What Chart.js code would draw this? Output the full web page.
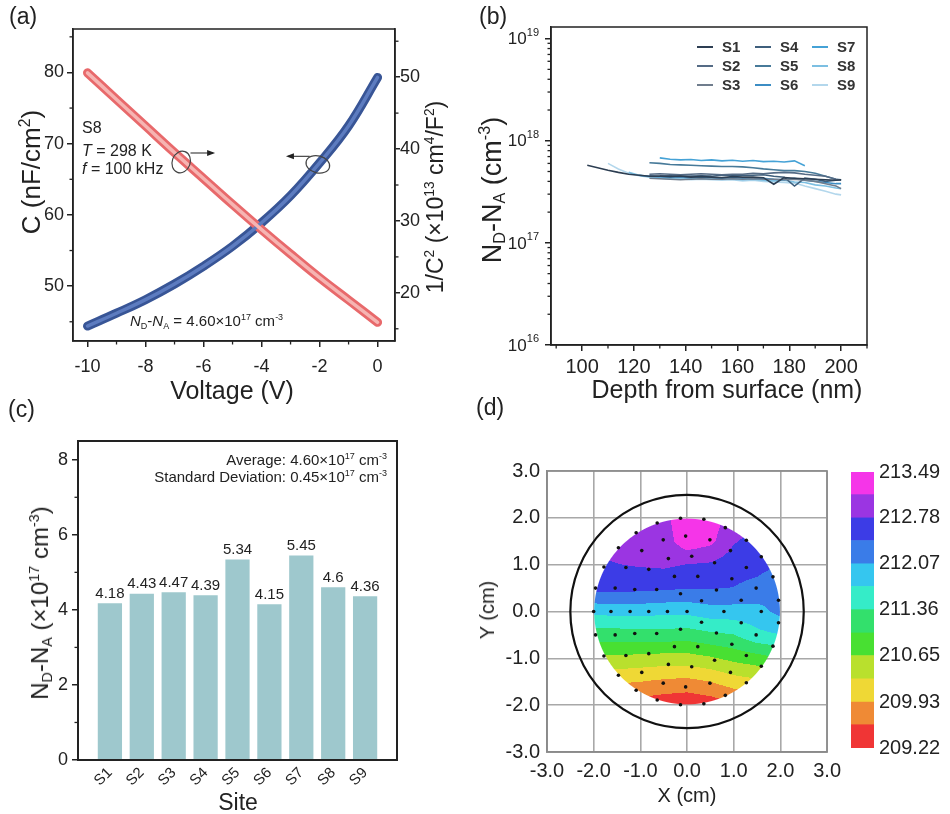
<!DOCTYPE html>
<html><head><meta charset="utf-8">
<script src="https://cdn.jsdelivr.net/npm/chart.js@4.4.1/dist/chart.umd.min.js"></script>
<style>
html,body{margin:0;padding:0;background:#fff;}
body{width:950px;height:814px;position:relative;overflow:hidden;font-family:"Liberation Sans",Arial,sans-serif;color:#222;}
canvas{position:absolute;}
.t{position:absolute;white-space:nowrap;line-height:1;}
.rot{transform:translate(-50%,-50%) rotate(-90deg);}
.ctr{transform:translate(-50%,-50%);}
sup{font-size:0.6em;vertical-align:0.62em;line-height:0;}
sub{font-size:0.6em;vertical-align:-0.3em;line-height:0;}
i{font-style:italic;}
.lg{position:absolute;height:2px;width:16px;}
.lt{position:absolute;font-size:15px;font-weight:bold;color:#333;line-height:1;}
</style></head><body>
<canvas id="ca" width="440" height="400" style="left:0;top:0"></canvas>
<canvas id="cb" width="420" height="400" style="left:460px;top:0"></canvas>
<canvas id="cc" width="440" height="414" style="left:0;top:400px"></canvas>
<canvas id="cd" width="378" height="414" style="left:470px;top:400px"></canvas>
<canvas id="ce" width="105" height="310" style="left:845px;top:455px"></canvas>

<!-- panel labels -->
<div class="t" style="left:9px;top:5px;font-size:23px">(a)</div>
<div class="t" style="left:479px;top:5px;font-size:23px">(b)</div>
<div class="t" style="left:8px;top:398px;font-size:23px">(c)</div>
<div class="t" style="left:476px;top:396px;font-size:23px">(d)</div>

<!-- (a) texts -->
<div class="t rot" style="left:31px;top:172px;font-size:26px">C (nF/cm<sup>2</sup>)</div>
<div class="t rot" style="left:435px;top:197px;font-size:23px">1/C<sup>2</sup> (×10<sup>13</sup> cm<sup>4</sup>/F<sup>2</sup>)</div>
<div class="t ctr" style="left:232px;top:390px;font-size:25px">Voltage (V)</div>
<div class="t" style="left:82px;top:120px;font-size:16px">S8</div>
<div class="t" style="left:82px;top:143px;font-size:16px"><i>T</i> = 298 K</div>
<div class="t" style="left:82px;top:161px;font-size:16px"><i>f</i> = 100 kHz</div>
<div class="t" style="left:130px;top:313px;font-size:15px"><i>N</i><sub>D</sub>-<i>N</i><sub>A</sub> = 4.60×10<sup>17</sup> cm<sup>-3</sup></div>

<!-- (b) texts -->
<div class="t rot" style="left:492px;top:190px;font-size:27px">N<sub>D</sub>-N<sub>A</sub> (cm<sup>-3</sup>)</div>
<div class="t ctr" style="left:727px;top:389px;font-size:25px">Depth from surface (nm)</div>
<div id="legendB"></div>

<!-- (c) texts -->
<div class="t rot" style="left:40px;top:603px;font-size:24px">N<sub>D</sub>-N<sub>A</sub> (×10<sup>17</sup> cm<sup>-3</sup>)</div>
<div class="t ctr" style="left:238px;top:802px;font-size:23px">Site</div>
<div class="t" style="right:563px;top:452px;font-size:15px">Average: 4.60×10<sup>17</sup> cm<sup>-3</sup></div>
<div class="t" style="right:563px;top:469px;font-size:15px">Standard Deviation: 0.45×10<sup>17</sup> cm<sup>-3</sup></div>

<!-- (d) texts -->
<div class="t rot" style="left:487px;top:610px;font-size:20px">Y (cm)</div>
<div class="t ctr" style="left:687px;top:795px;font-size:20px">X (cm)</div>

<script>
// ================= DATA =================
// (a) C-V and 1/C^2-V of site S8
const voltage      = [-10, -9, -8, -7, -6, -5, -4, -3, -2, -1, 0];
const capacitance  = [44.4, 46.2, 48.1, 50.3, 52.8, 55.6, 58.9, 62.7, 67.3, 72.5, 79.3];   // nF/cm^2
const invCapSq     = [50.6, 46.9, 43.2, 39.5, 35.9, 32.3, 28.8, 25.4, 22.1, 19.0, 15.9];   // x1e13 cm^4/F^2
const ticksAX  = [-10, -8, -6, -4, -2, 0];
const minorAX  = [-9, -7, -5, -3, -1];
const ticksAY  = [50, 60, 70, 80];
const minorAY  = [45, 55, 65, 75, 85];
const ticksAY1 = [20, 30, 40, 50];
const minorAY1 = [15, 25, 35, 45, 55];

// (b) doping profiles, x1e17 cm^-3
const depthGrid = [102,106,110,114,118,122,126,130,134,138,142,146,150,154,158,162,166,170,174,178,182,186,190,194,198,200];
const profileS1 = [5.75,5.45,5.15,4.9,4.7,4.6,4.5,4.5,4.45,4.5,4.4,4.45,4.4,4.35,4.45,4.4,4.4,4.35,3.75,4.35,4.3,4.25,4.2,4.15,4.1,4.15];
const profileS2 = [null,null,null,null,null,null,4.7,4.75,4.7,4.65,4.7,4.75,4.7,4.65,4.7,4.7,4.8,4.75,4.85,4.9,4.85,4.7,4.6,4.5,4.2,4.1];
const profileS3 = [null,null,null,null,null,null,4.3,4.25,4.2,4.15,4.2,4.25,4.2,4.2,4.25,4.2,4.25,4.2,4.2,4.15,4.2,4.1,4.0,3.8,3.6,3.4];
const profileS4 = [null,null,null,null,null,null,null,4.5,4.55,4.5,4.5,4.55,4.5,4.6,4.55,4.6,4.6,4.65,4.5,4.4,3.6,4.3,4.2,4.0,4.1,4.15];
const profileS5 = [null,null,null,null,null,null,6.1,6.0,5.85,5.8,5.75,5.7,5.65,5.6,5.6,5.55,5.45,5.3,5.2,5.1,5.1,5.0,4.8,4.5,4.2,4.15];
const profileS6 = [null,null,null,null,null,4.6,4.5,4.45,4.4,4.45,4.35,4.4,4.35,4.3,4.35,4.3,4.25,4.3,4.2,4.15,4.3,4.1,4.0,3.9,3.8,3.8];
const profileS7 = [null,null,null,null,null,null,null,6.8,6.6,6.5,6.55,6.4,6.5,6.35,6.45,6.3,6.4,6.25,6.3,6.2,6.35,5.7,null,null,null,null];
const profileS8 = [null,null,null,null,4.9,4.6,4.45,4.35,4.3,4.35,4.25,4.3,4.2,4.25,4.2,4.15,4.2,4.1,4.05,4.1,3.95,3.9,3.7,3.6,3.45,3.4];
const profileS9 = [null,null,6.0,5.3,4.8,4.55,4.4,4.3,4.2,4.25,4.15,4.2,4.15,4.1,4.15,4.05,4.1,4.0,3.95,3.9,3.85,3.6,3.4,3.2,3.0,2.95];
const profileColors = ['#2d3e52','#556b85','#707d8d','#3f5f7c','#477a99','#3c8dc4','#45a2d6','#7cbfe2','#b3d7ec'];
const ticksBX = [100, 120, 140, 160, 180, 200];
const minorBX = [90, 110, 130, 150, 170, 190, 210];
const ticksBY = [1e16, 1e17, 1e18, 1e19];
const minorBY = [2e16,3e16,4e16,5e16,6e16,7e16,8e16,9e16,2e17,3e17,4e17,5e17,6e17,7e17,8e17,9e17,2e18,3e18,4e18,5e18,6e18,7e18,8e18,9e18];

// (c) average doping per site, x1e17 cm^-3
const siteNames  = ['S1','S2','S3','S4','S5','S6','S7','S8','S9'];
const siteDoping = [4.18, 4.43, 4.47, 4.39, 5.34, 4.15, 5.45, 4.6, 4.36];
const ticksCY = [0, 2, 4, 6, 8];
const minorCY = [1, 3, 5, 7];

// (d) thickness map (nm) on a 0.5 cm grid; rows from Y=2.0 down to Y=-2.0
const mapX = [-2, -1.5, -1, -0.5, 0, 0.5, 1, 1.5, 2];
const mapY = [2, 1.5, 1, 0.5, 0, -0.5, -1, -1.5, -2];
const thkRowP20 = [212.95,212.98,213.02,213.02,213.44,213.34,212.98,212.84,212.77];
const thkRowP15 = [212.91,212.95,212.98,212.95,213.37,213.23,212.81,212.66,212.59];
const thkRowP10 = [212.70,212.77,212.81,212.84,212.77,212.73,212.59,212.56,212.42];
const thkRowP05 = [212.56,212.56,212.52,212.49,212.45,212.45,212.42,212.31,212.13];
const thkRow00  = [211.81,211.85,211.85,211.81,211.81,211.92,211.92,211.95,212.17];
const thkRowM05 = [211.17,211.17,211.21,211.21,211.17,211.28,211.35,211.63,211.71];
const thkRowM10 = [210.57,210.57,210.53,210.50,210.50,210.60,210.75,210.85,211.00];
const thkRowM15 = [210.00,209.97,209.93,209.86,209.82,209.93,210.11,210.21,210.29];
const thkRowM20 = [209.50,209.47,209.40,209.33,209.29,209.36,209.50,209.65,209.75];
// measurement sites (cm)
const siteX = [-2.0,1.59,-1.63,-1.22,0.79,-0.82,-0.42,0,
  -0.14,0.36,0.82,1.27,1.59,1.84,1.96,-0.64,-1.09,-1.47,-1.78,-1.96,
  -0.03,0.49,-0.51,0.93,-0.97,1.27,-1.31,1.48,-1.54,
  0.1,-0.4,0.59,-0.82,0.96,-1.12,1.16,
  -0.27,0.23,0.63,-0.65,-0.14,0.31,
  -0.14,0.36,0.82,1.27,1.59,1.84,1.96,-0.64,-1.09,-1.47,-1.78,-1.96,
  -0.03,0.49,-0.51,0.93,-0.97,1.27,-1.31,1.48,-1.54,
  0.1,-0.4,0.59,-0.82,0.96,-1.12,1.16,
  -0.27,0.23,0.63,-0.65,-0.14,0.31];
const siteY = [0,0,0,0,0,0,0,0,
  1.99,1.97,1.79,1.52,1.17,0.74,0.24,1.89,1.68,1.36,0.95,0.5,
  1.61,1.53,1.53,1.3,1.3,0.94,0.94,0.5,0.5,
  1.18,1.13,1.04,0.9,0.7,0.47,0.24,
  0.75,0.75,0.46,0.47,0.38,0.23,
  -1.99,-1.97,-1.79,-1.52,-1.17,-0.74,-0.24,-1.89,-1.68,-1.36,-0.95,-0.5,
  -1.61,-1.53,-1.53,-1.3,-1.3,-0.94,-0.94,-0.5,-0.5,
  -1.18,-1.13,-1.04,-0.9,-0.7,-0.47,-0.24,
  -0.75,-0.75,-0.46,-0.47,-0.38,-0.23];
const ticksD = [-3, -2, -1, 0, 1, 2, 3];
const bandEdges = [209.22,209.58,209.93,210.29,210.65,211.00,211.36,211.72,212.07,212.43,212.78,213.14,213.49];
const bandLabels = [209.22, 209.93, 210.65, 211.36, 212.07, 212.78, 213.49];
const bandColors = ['#f03535','#ef8a35','#efd835','#b9e02d','#48e032','#33e06c','#35ecc8','#35c6ef','#3a7ce8','#3c3ce6','#9b35e2','#f535e8'];

// ================= HELPERS =================
Chart.defaults.animation = false;
Chart.defaults.font.family = '"Liberation Sans", Arial, sans-serif';
Chart.defaults.color = '#222';
const FONT = '"Liberation Sans", Arial, sans-serif';
const setTicks = arr => s => { s.ticks = arr.map(v => ({value: v})); };
const fixW = w => s => { s.width = w; };
const fixH = h => s => { s.height = h; };
const noLegend = {legend:{display:false}, tooltip:{enabled:false}};

const framePlugin = {
  id: 'frame',
  afterDraw(chart, args, opts) {
    const {ctx, chartArea: a} = chart;
    ctx.save();
    ctx.strokeStyle = opts.color || '#222';
    (opts.minor || []).forEach(m => {
      const s = chart.scales[m.axis];
      ctx.lineWidth = m.width || 1.3;
      m.values.forEach(v => {
        const p = s.getPixelForValue(v);
        ctx.beginPath();
        if (s.isHorizontal()) {
          const y = s.position === 'bottom' ? a.bottom : a.top;
          const d = s.position === 'bottom' ? m.len : -m.len;
          ctx.moveTo(p, y); ctx.lineTo(p, y + d);
        } else {
          const x = s.position === 'left' ? a.left : a.right;
          const d = s.position === 'left' ? -m.len : m.len;
          ctx.moveTo(x, p); ctx.lineTo(x + d, p);
        }
        ctx.stroke();
      });
    });
    ctx.lineWidth = opts.lineWidth || 1.5;
    ctx.strokeRect(a.left, a.top, a.right - a.left, a.bottom - a.top);
    ctx.restore();
  }
};

const axisBase = (extra, tl) => Object.assign({
  grid: {drawOnChartArea: false, drawTicks: true, tickLength: tl || 6, color: '#222', lineWidth: 1.5},
  border: {display: true, color: '#222', width: 1.5}
}, extra);

// ================= (a) =================
const markerPlugin = {
  id: 'markers',
  afterDatasetsDraw(chart, args, opts) {
    const {ctx, scales} = chart;
    ctx.save();
    ctx.strokeStyle = '#444'; ctx.fillStyle = '#222'; ctx.lineWidth = 1.2;
    opts.items.forEach(it => {
      const cx = scales.x.getPixelForValue(it.x), cy = scales[it.axis].getPixelForValue(it.y);
      ctx.beginPath(); ctx.ellipse(cx, cy, it.rx, it.ry, it.rot, 0, Math.PI * 2); ctx.stroke();
      const x0 = scales.x.getPixelForValue(it.from), x1 = scales.x.getPixelForValue(it.to), ay = cy + it.dy;
      ctx.beginPath(); ctx.moveTo(x0, ay); ctx.lineTo(x1, ay); ctx.stroke();
      const dir = x1 > x0 ? 1 : -1;
      ctx.beginPath(); ctx.moveTo(x1 + dir * 2, ay); ctx.lineTo(x1 - dir * 6, ay - 3); ctx.lineTo(x1 - dir * 6, ay + 3); ctx.closePath(); ctx.fill();
    });
    ctx.restore();
  }
};
const ptsC = voltage.map((v, i) => ({x: v, y: capacitance[i]}));
const ptsI = voltage.map((v, i) => ({x: v, y: invCapSq[i]}));
const lineStyle = {pointRadius: 0, tension: 0.4, borderCapStyle: 'round', borderJoinStyle: 'round', fill: false};
// dataset 0 is drawn on top in Chart.js, so the light cores come first
new Chart(document.getElementById('ca'), {
  type: 'line',
  data: {datasets: [
    Object.assign({data: ptsI, yAxisID: 'y1', borderColor: '#f6b4b2', borderWidth: 3.5}, lineStyle),
    Object.assign({data: ptsC, yAxisID: 'y', borderColor: '#5d7cc0', borderWidth: 3.5}, lineStyle),
    Object.assign({data: ptsI, yAxisID: 'y1', borderColor: '#e8696b', borderWidth: 9}, lineStyle),
    Object.assign({data: ptsC, yAxisID: 'y', borderColor: '#385596', borderWidth: 9}, lineStyle)
  ]},
  options: {
    responsive: false,
    layout: {padding: {top: 29, left: 0, right: 0, bottom: 0}},
    scales: {
      x: axisBase({type: 'linear', min: -10.5, max: 0.6, afterBuildTicks: setTicks(ticksAX), afterFit: fixH(59),
        ticks: {font: {size: 18}, padding: 9, callback: v => String(v)}}),
      y: axisBase({position: 'left', min: 42.3, max: 86.1, afterBuildTicks: setTicks(ticksAY), afterFit: fixW(73),
        ticks: {font: {size: 18}, padding: 3}}),
      y1: axisBase({position: 'right', min: 13.3, max: 56.7, afterBuildTicks: setTicks(ticksAY1), afterFit: fixW(45),
        ticks: {font: {size: 18}, padding: 0}}, 5)
    },
    plugins: Object.assign({
      frame: {lineWidth: 1.5, minor: [
        {axis: 'x', values: minorAX, len: 3.5}, {axis: 'y', values: minorAY, len: 3.5}, {axis: 'y1', values: minorAY1, len: 3.5}]},
      markers: {items: [
        {x: -6.77, y: 38.2, axis: 'y1', rx: 9, ry: 11, rot: 0.35, from: -6.45, to: -5.67, dy: -9},
        {x: -2.06, y: 67.1, axis: 'y', rx: 12, ry: 8.5, rot: 0.25, from: -2.34, to: -3.09, dy: -8}]}
    }, noLegend)
  },
  plugins: [framePlugin, markerPlugin]
});

// ================= (b) =================
const profiles = [profileS1, profileS2, profileS3, profileS4, profileS5, profileS6, profileS7, profileS8, profileS9];
const logLabelPlugin = {
  id: 'logLabels',
  afterDraw(chart, args, opts) {
    const s = chart.scales.y, ctx = chart.ctx;
    ctx.save(); ctx.fillStyle = '#222'; ctx.textBaseline = 'middle'; ctx.textAlign = 'left';
    opts.values.forEach(v => {
      const p = s.getPixelForValue(v);
      const ex = String(Math.round(Math.log10(v)));
      ctx.font = '11px ' + FONT; const we = ctx.measureText(ex).width;
      ctx.font = '17px ' + FONT; const wb = ctx.measureText('10').width;
      const right = chart.chartArea.left - opts.gap;
      ctx.fillText('10', right - we - wb, p + 1);
      ctx.font = '11px ' + FONT; ctx.fillText(ex, right - we, p - 6);
    });
    ctx.restore();
  }
};
new Chart(document.getElementById('cb'), {
  type: 'line',
  data: {datasets: profiles.map((arr, k) => ({
    label: siteNames[k],
    data: depthGrid.map((d, i) => ({x: d, y: arr[i] == null ? null : arr[i] * 1e17})),
    borderColor: profileColors[k], borderWidth: 1.6, pointRadius: 0, spanGaps: false, fill: false
  }))},
  options: {
    responsive: false,
    layout: {padding: {top: 27, left: 0, right: 13, bottom: 0}},
    scales: {
      x: axisBase({type: 'linear', min: 88, max: 210, afterBuildTicks: setTicks(ticksBX), afterFit: fixH(55),
        ticks: {font: {size: 20}, padding: 4}}),
      y: axisBase({type: 'logarithmic', position: 'left', min: 1e16, max: 1.3e19, afterBuildTicks: setTicks(ticksBY), afterFit: fixW(91),
        ticks: {display: false}})
    },
    plugins: Object.assign({
      frame: {lineWidth: 1.5, minor: [
        {axis: 'x', values: minorBX, len: 3.5},
        {axis: 'y', values: minorBY, len: 3.5}]},
      logLabels: {values: ticksBY, gap: 12}
    }, noLegend)
  },
  plugins: [framePlugin, logLabelPlugin]
});
// legend (b): three columns, column-major
(function(){
  const box = document.getElementById('legendB');
  const colX = [697, 755, 812], rowY = [47, 66, 85];
  siteNames.forEach((n, k) => {
    const c = Math.floor(k / 3), r = k % 3;
    const l = document.createElement('div'); l.className = 'lg';
    l.style.left = colX[c] + 'px'; l.style.top = (rowY[r] - 1) + 'px'; l.style.background = profileColors[k];
    const t = document.createElement('div'); t.className = 'lt'; t.textContent = n;
    t.style.left = (colX[c] + 25) + 'px'; t.style.top = (rowY[r] - 8) + 'px';
    box.appendChild(l); box.appendChild(t);
  });
})();

// ================= (c) =================
const barLabelPlugin = {
  id: 'barLabels',
  afterDatasetsDraw(chart) {
    const ctx = chart.ctx, meta = chart.getDatasetMeta(0), data = chart.data.datasets[0].data;
    ctx.save(); ctx.fillStyle = '#222'; ctx.font = '15px ' + FONT; ctx.textAlign = 'center'; ctx.textBaseline = 'bottom';
    meta.data.forEach((el, i) => { if (data[i] != null) ctx.fillText(String(data[i]), el.x, el.y - 2); });
    ctx.restore();
  }
};
new Chart(document.getElementById('cc'), {
  type: 'bar',
  data: {labels: ['', ...siteNames, ''], datasets: [{data: [null, ...siteDoping, null], backgroundColor: '#9ec8cd', barPercentage: 0.76, categoryPercentage: 1}]},
  options: {
    responsive: false,
    layout: {padding: {top: 41, left: 0, right: 43, bottom: 0}},
    scales: {
      x: {offset: false, grid: {display: false, offset: false, drawTicks: false}, border: {display: true, color: '#222', width: 2}, afterFit: fixH(54),
        ticks: {autoSkip: false, minRotation: 45, maxRotation: 45, font: {size: 15}, padding: 4}},
      y: axisBase({min: 0, max: 8.5, afterBuildTicks: setTicks(ticksCY), afterFit: fixW(78), ticks: {font: {size: 18}, padding: 4}})
    },
    plugins: Object.assign({frame: {lineWidth: 2, minor: [{axis: 'y', values: minorCY, len: 3.5}]}}, noLegend)
  },
  plugins: [framePlugin, barLabelPlugin]
});

// ================= (d) =================
const thkGrid = [thkRowP20, thkRowP15, thkRowP10, thkRowP05, thkRow00, thkRowM05, thkRowM10, thkRowM15, thkRowM20];
function thkAt(xv, yv) {
  let i = 0; while (i < mapX.length - 2 && xv > mapX[i + 1]) i++;
  let j = 0; while (j < mapY.length - 2 && yv < mapY[j + 1]) j++;
  const tx = Math.min(1, Math.max(0, (xv - mapX[i]) / (mapX[i + 1] - mapX[i])));
  const ty = Math.min(1, Math.max(0, (yv - mapY[j]) / (mapY[j + 1] - mapY[j])));
  const g = thkGrid;
  return g[j][i] * (1 - tx) * (1 - ty) + g[j][i + 1] * tx * (1 - ty) + g[j + 1][i] * (1 - tx) * ty + g[j + 1][i + 1] * tx * ty;
}
const rgbBands = bandColors.map(h => [parseInt(h.slice(1, 3), 16), parseInt(h.slice(3, 5), 16), parseInt(h.slice(5, 7), 16)]);
const contourPlugin = {
  id: 'contour',
  beforeDatasetsDraw(chart, args, opts) {
    const {ctx, scales: {x, y}} = chart;
    const cx = x.getPixelForValue(0), cy = y.getPixelForValue(0);
    const R = x.getPixelForValue(opts.radius) - cx;
    const x0 = Math.floor(cx - R - 1), y0 = Math.floor(cy - R - 1), n = Math.ceil(2 * R + 3);
    const off = document.createElement('canvas'); off.width = n; off.height = n;
    const octx = off.getContext('2d'); const img = octx.createImageData(n, n);
    for (let py = 0; py < n; py++) for (let px = 0; px < n; px++) {
      const X = x0 + px + 0.5, Y = y0 + py + 0.5;
      const d = Math.hypot(X - cx, Y - cy); if (d > R) continue;
      const v = thkAt(x.getValueForPixel(X), y.getValueForPixel(Y));
      let k = 0; while (k < 11 && v >= bandEdges[k + 1]) k++;
      const c = rgbBands[k], o = (py * n + px) * 4;
      img.data[o] = c[0]; img.data[o + 1] = c[1]; img.data[o + 2] = c[2];
      img.data[o + 3] = d > R - 1 ? Math.round(255 * (R - d)) : 255;
    }
    octx.putImageData(img, 0, 0);
    ctx.save();
    ctx.drawImage(off, x0, y0);
    ctx.strokeStyle = '#111'; ctx.lineWidth = 2.2;
    ctx.beginPath(); ctx.arc(cx, cy, x.getPixelForValue(opts.outline) - cx, 0, Math.PI * 2); ctx.stroke();
    ctx.restore();
  }
};
const gridD = {color: '#a8a8a8', lineWidth: 1.6, drawTicks: false};
new Chart(document.getElementById('cd'), {
  type: 'scatter',
  data: {datasets: [{data: siteX.map((v, i) => ({x: v, y: siteY[i]})), pointRadius: 1.8, pointBackgroundColor: '#111', pointBorderWidth: 0}]},
  options: {
    responsive: false,
    layout: {padding: {top: 71, left: 0, right: 20, bottom: 0}},
    scales: {
      x: {min: -3, max: 3, afterBuildTicks: setTicks(ticksD), afterFit: fixH(62), grid: gridD, border: {color: '#8a8a8a', width: 1.6},
        ticks: {font: {size: 20}, padding: 7, callback: v => v.toFixed(1)}},
      y: {min: -3, max: 3, afterBuildTicks: setTicks(ticksD), afterFit: fixW(77), grid: gridD, border: {color: '#8a8a8a', width: 1.6},
        ticks: {font: {size: 20}, padding: 7, callback: v => v.toFixed(1)}}
    },
    plugins: Object.assign({frame: {lineWidth: 1.6, color: '#8a8a8a'}, contour: {radius: 2, outline: 2.5}}, noLegend)
  },
  plugins: [contourPlugin, framePlugin]
});

// colour bar
new Chart(document.getElementById('ce'), {
  type: 'bar',
  data: {labels: [''], datasets: bandColors.map((c, k) => ({
    data: [[bandEdges[k], bandEdges[k + 1]]], backgroundColor: c, barPercentage: 1, categoryPercentage: 1, grouped: false, borderWidth: 0}))},
  options: {
    responsive: false,
    layout: {padding: {top: 17, left: 6, right: 0, bottom: 13}},
    scales: {
      x: {display: false},
      y: {position: 'right', min: 209.22, max: 213.49, afterBuildTicks: setTicks(bandLabels), afterFit: fixW(76),
        grid: {display: false, drawTicks: false}, border: {display: false}, ticks: {font: {size: 20}, padding: 5, callback: v => v.toFixed(2)}}
    },
    plugins: noLegend
  }
});
</script>
</body></html>
